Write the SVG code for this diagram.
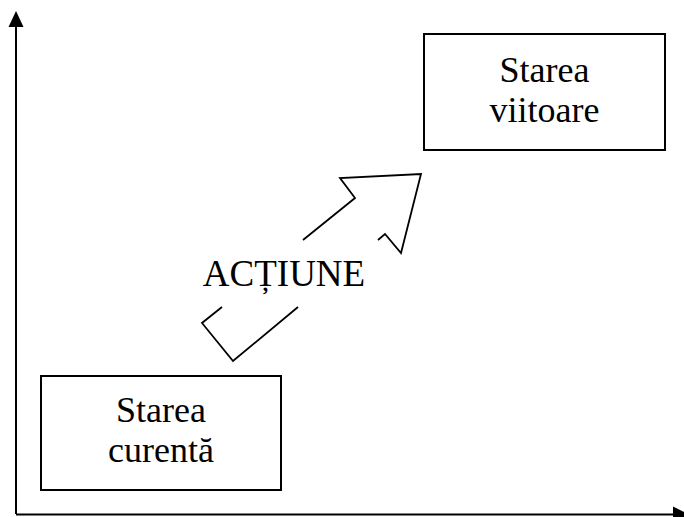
<svg xmlns="http://www.w3.org/2000/svg" width="684" height="517" viewBox="0 0 684 517">
  <style>
    .box { fill: #fff; stroke: #000; stroke-width: 2; }
    .axis { fill: none; stroke: #000; stroke-width: 2; }
    .outline { fill: none; stroke: #000; stroke-width: 1.8; stroke-linejoin: miter; }
    .lbl { font-family: "Liberation Serif", "Times New Roman", serif; font-size: 36px; fill: #000; text-anchor: middle; }
  </style>
  <defs>
    <marker id="axisHead" markerWidth="10" markerHeight="10" refX="0" refY="5" orient="auto" markerUnits="userSpaceOnUse" viewBox="0 0 10 10">
      <path d="M0,0 L10,5 L0,10 Z" fill="#000"/>
    </marker>
  </defs>
  <rect width="684" height="517" fill="#fff"/>

  <!-- axes -->
  <g id="axes">
    <path class="axis" d="M16,514 L16,26"/>
    <path d="M16,11 L8.5,27 L23.5,27 Z" fill="#000"/>
    <path class="axis" d="M16,514.5 L673,514.5"/>
    <path d="M689,514.5 L673,506.5 L673,522.5 Z" fill="#000"/>
  </g>

  <!-- block arrow, interrupted by its label -->
  <g id="actiune">
    <polyline class="outline" points="303,240 355,198 340,178 421,174 401,253 385,234 378,240"/>
    <polyline class="outline" points="222,307 202,323 233,361 298,307"/>
    <text class="lbl" x="284" y="286" style="font-size:37px">ACȚIUNE</text>
  </g>

  <g id="starea-curenta">
    <rect class="box" x="41" y="376" width="240" height="114"/>
    <text class="lbl" x="161" y="422">Starea</text>
    <text class="lbl" x="161" y="462">curentă</text>
  </g>

  <g id="starea-viitoare">
    <rect class="box" x="424" y="34" width="241" height="116"/>
    <text class="lbl" x="544.5" y="82">Starea</text>
    <text class="lbl" x="544.5" y="122">viitoare</text>
  </g>
</svg>
